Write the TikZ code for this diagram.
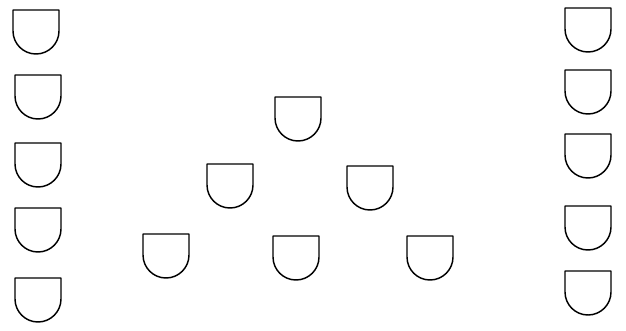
\documentclass[tikz,border=0pt]{standalone}
\begin{document}
\begin{tikzpicture}[x=1pt,y=1pt,
  cup/.pic={\draw[line width=1.45pt,line join=round] (0,0) -- (46,0) -- (46,-21)
     arc[start angle=0,end angle=-180,radius=23] -- cycle;}]
\useasboundingbox (0,0) rectangle (626,330);
\newcommand{\cupat}[3]{\pic (#1) at (#2,{330-#3}) {cup};}
% left column
\cupat{l1}{13}{10}
\cupat{l2}{15}{75}
\cupat{l3}{15}{143}
\cupat{l4}{15}{208}
\cupat{l5}{15}{278}
% middle triangle
\cupat{m1}{275}{97}
\cupat{m2}{207}{164}
\cupat{m3}{347}{166}
\cupat{m4}{143}{234}
\cupat{m5}{273}{236}
\cupat{m6}{407}{236}
% right column
\cupat{r1}{565}{8}
\cupat{r2}{565}{70}
\cupat{r3}{565}{134}
\cupat{r4}{565}{206}
\cupat{r5}{565}{271}
\end{tikzpicture}
\end{document}
